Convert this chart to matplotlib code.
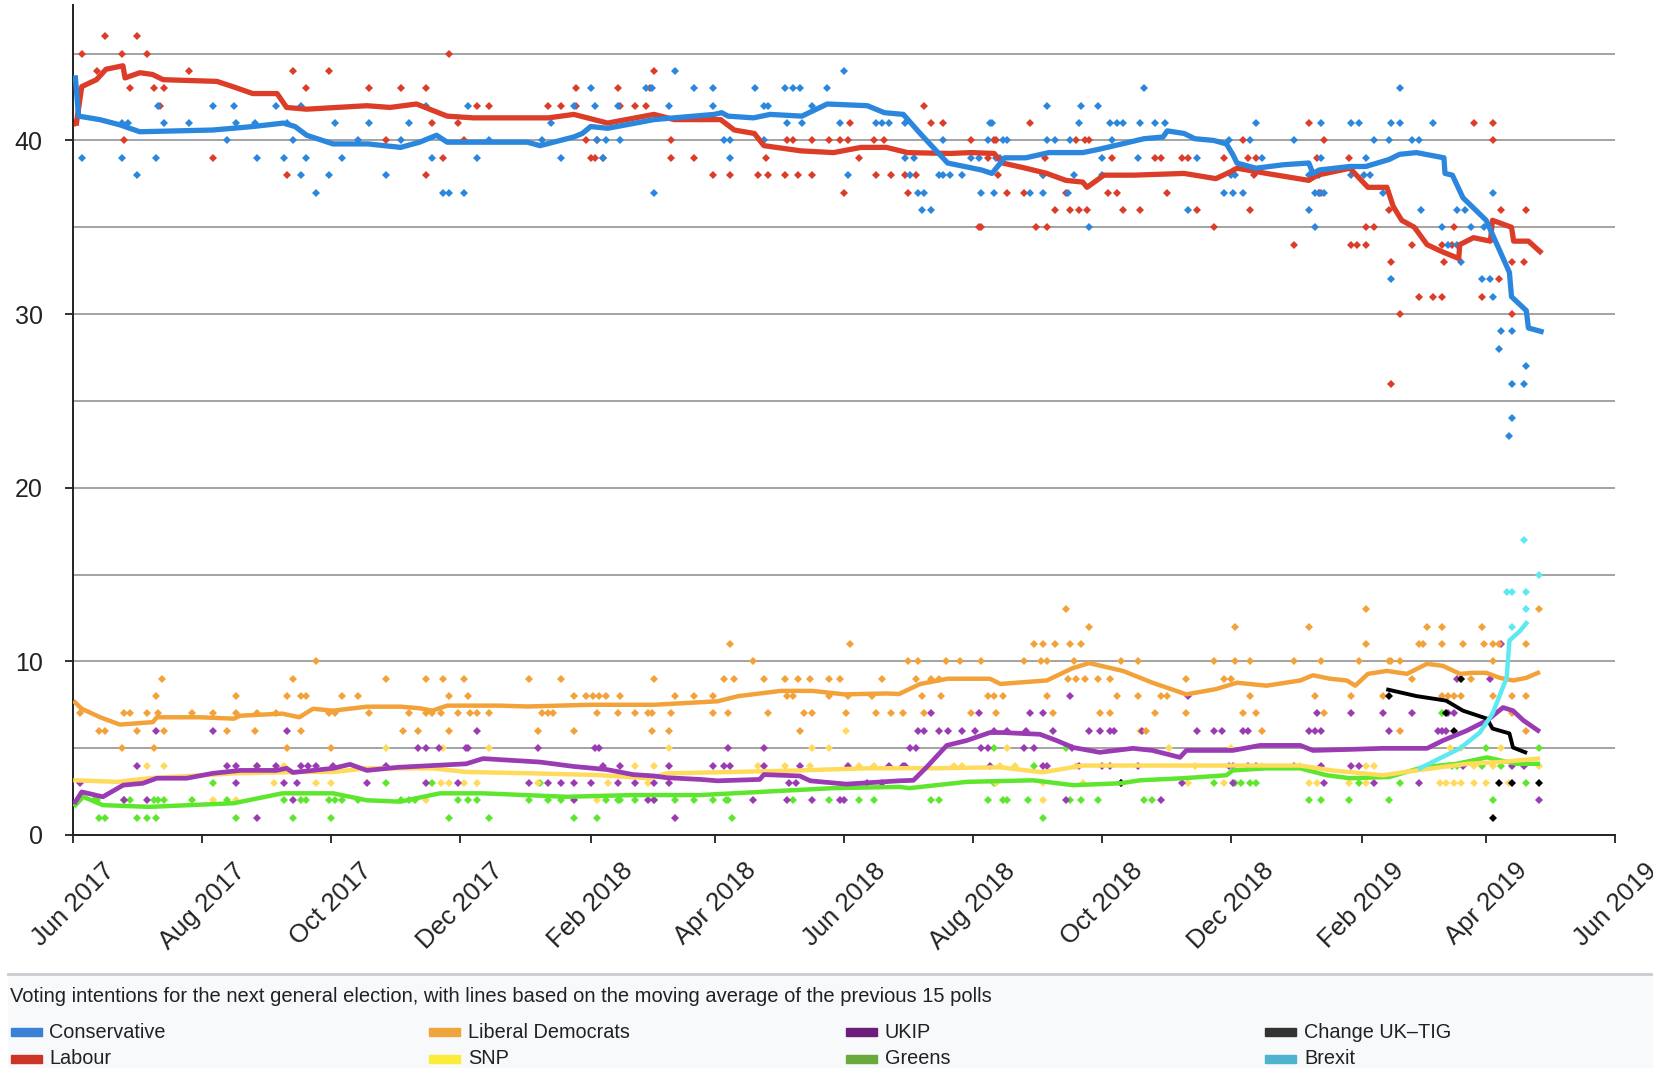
import pandas as pd
import matplotlib
matplotlib.use('Agg')
import matplotlib.pyplot as plt
import matplotlib.dates as mdates
from matplotlib.patches import Rectangle

plt.rcParams['font.family'] = ['Liberation Sans', 'DejaVu Sans']

start = pd.Timestamp('2017-06-01')

# moving-average lines: (days after 1 Jun 2017, percent)
con_line = [(1, 43.6), (2.5, 41.4), (12.5, 41.2), (22, 40.9), (31.5, 40.5), (66, 40.6), (85, 40.8),
            (99.5, 41.0), (105, 40.8), (110.5, 40.3), (123, 39.8), (139.5, 39.8), (155, 39.6), (164, 39.9),
            (172, 40.3), (177, 39.9), (202, 39.9), (215, 39.9), (221, 39.7), (237, 40.2), (241, 40.4),
            (245, 40.8), (253, 40.7), (275, 41.2), (303.5, 41.5), (307, 41.6), (310, 41.4), (322, 41.3),
            (330, 41.5), (345, 41.4), (357, 42.1), (376, 42.0), (384, 41.6), (393, 41.5), (401, 40.4),
            (414, 38.7), (430, 38.3), (435, 38.1), (441, 39.0), (451, 39.0), (462, 39.3), (478, 39.3),
            (486, 39.5), (500, 39.9), (507, 40.1), (516, 40.2), (518, 40.55), (526, 40.4), (531, 40.1),
            (540, 40.0), (546, 39.8), (549, 39.2), (551, 38.7), (560, 38.4), (573, 38.6), (585, 38.7),
            (587, 38.1), (590, 38.3), (604.5, 38.5), (612, 38.5), (623, 38.9), (628, 39.2), (636, 39.3),
            (649, 39.0), (649.5, 38.1), (653, 38.0), (658, 36.7), (669, 35.4), (680, 32.4), (681, 31.0),
            (688, 30.2), (689, 29.2), (695, 29.0)]
lab_line = [(1.5, 41.0), (4, 43.1), (11, 43.5), (15.5, 44.1), (23.5, 44.3), (24.5, 43.6), (31.5, 43.9),
            (37.5, 43.8), (42.5, 43.5), (68, 43.4), (75.5, 43.1), (85, 42.7), (96.5, 42.7), (101, 41.9),
            (110.5, 41.8), (139, 42.0), (150, 41.9), (162.5, 42.1), (177, 41.4), (189.5, 41.3), (202, 41.3),
            (225, 41.3), (237, 41.5), (253, 41.0), (275, 41.5), (284.5, 41.2), (306.5, 41.2), (313, 40.6),
            (322.5, 40.4), (327, 39.7), (344.5, 39.4), (360, 39.3), (373, 39.6), (385, 39.6), (395, 39.3),
            (415, 39.25), (425, 39.3), (436, 39.25), (440, 38.7), (451, 38.4), (461, 38.1), (470, 37.7),
            (478, 37.6), (480, 37.3), (488, 38.0), (502, 38.0), (526, 38.1), (541, 37.8), (548, 38.2),
            (551, 38.4), (565, 38.1), (585, 37.7), (589, 38.0), (604.5, 38.4), (613, 37.3), (622, 37.3),
            (625, 36.2), (629, 35.4), (635, 35.0), (641, 34.0), (648, 33.6), (656, 33.2), (656.5, 34.0),
            (663, 34.4), (671, 34.2), (672, 35.4), (681, 35.0), (682, 34.2), (689, 34.2), (694.5, 33.6)]
ld_line = [(0.8, 7.64), (4, 7.27), (12.7, 6.78), (22, 6.36), (37.7, 6.5), (39.5, 6.78), (60, 6.78), (76, 6.7),
           (79, 6.87), (99, 6.99), (107, 6.78), (113.5, 7.27), (123, 7.16), (139, 7.39), (155, 7.39),
           (164, 7.3), (170, 7.16), (177, 7.45), (202, 7.45), (215, 7.4), (245, 7.5), (275, 7.5), (305, 7.7),
           (315, 8.0), (335, 8.3), (350, 8.3), (365, 8.1), (385, 8.15), (391, 8.12), (401, 8.7), (414, 9.0),
           (434, 9.0), (439, 8.7), (461, 8.9), (473, 9.6), (481, 9.9), (497, 9.45), (511, 8.77), (527, 8.1),
           (541, 8.4), (551, 8.77), (565, 8.6), (581, 8.9), (587, 9.2), (595, 9.0), (603, 8.9), (607, 8.6),
           (613, 9.28), (622, 9.45), (631.5, 9.28), (641, 9.86), (648.5, 9.74), (656.6, 9.28), (662.7, 9.34),
           (669, 9.34), (675.5, 9.05), (681.7, 8.9), (688, 9.05), (693.5, 9.34)]
ukip_line = [(1, 1.91), (4, 2.48), (14, 2.2), (23.6, 2.87), (33, 2.98), (39.5, 3.27), (53.7, 3.27), (66, 3.55),
             (79, 3.72), (96, 3.72), (101, 3.84), (104, 3.6), (123, 3.84), (131, 4.07), (139, 3.72),
             (154, 3.9), (170, 4.0), (186, 4.1), (194, 4.4), (221, 4.2), (236.8, 3.95), (252.6, 3.77),
             (265, 3.48), (275, 3.4), (281, 3.3), (297, 3.2), (305, 3.12), (325, 3.2), (327, 3.48), (344, 3.4),
             (349, 3.12), (366, 2.93), (391, 3.12), (397.8, 3.15), (404, 3.9), (413.6, 5.16), (423, 5.44),
             (434, 5.9), (440, 5.9), (457.7, 5.8), (465.6, 5.44), (473.4, 5.04), (486, 4.76), (501.7, 4.99),
             (511, 4.87), (524, 4.47), (527, 4.87), (549, 4.87), (562, 5.16), (581, 5.16), (587, 4.87),
             (604.5, 4.93), (620, 4.99), (641, 4.99), (648.5, 5.44), (660, 6.02), (669.4, 6.6), (677, 7.34),
             (681.7, 7.16), (686.6, 6.6), (693.5, 6.02)]
snp_line = [(1, 3.15), (21, 3.06), (36, 3.27), (76, 3.55), (107, 3.63), (123, 3.63), (139, 3.84), (170, 3.84),
            (186, 3.63), (218, 3.55), (249, 3.45), (273, 3.26), (281, 3.55), (312.5, 3.63), (344, 3.72),
            (375.7, 3.84), (397.8, 3.85), (407, 3.84), (439, 3.9), (459, 3.61), (478, 4.0), (533, 4.0),
            (581, 4.0), (596, 3.72), (620, 3.44), (636, 3.72), (660, 4.1), (675.5, 4.2), (693.5, 4.4)]
greens_line = [(1, 1.72), (4.7, 2.2), (14, 1.72), (36, 1.62), (76, 1.83), (99, 2.4), (123, 2.4), (139, 2.0),
               (154.7, 1.92), (173.6, 2.4), (194, 2.4), (233.6, 2.2), (265, 2.3), (296.7, 2.3), (312.5, 2.4),
               (344, 2.6), (360, 2.7), (391, 2.77), (396, 2.7), (423, 3.06), (454.5, 3.15), (473.4, 2.87),
               (496, 2.98), (505, 3.15), (525.6, 3.27), (546, 3.44), (549, 3.72), (565, 3.84), (581, 3.84),
               (593.5, 3.44), (604.5, 3.27), (623, 3.34), (639, 3.9), (655, 4.1), (669.4, 4.47), (675.5, 4.3),
               (683.5, 4.1), (693.5, 4.1)]
tig_line = [(622.6, 8.37), (636, 8.0), (650, 7.74), (658, 7.16), (669.4, 6.7), (672, 6.13), (680, 5.85),
            (681.7, 5.04), (687.5, 4.76)]
brexit_line = [(637.6, 3.84), (656.6, 4.99), (666, 5.9), (672, 6.99), (678.7, 9.05), (680, 11.2), (685, 11.75),
               (688, 12.2)]

# individual polls: (days after 1 Jun 2017, percent)
con_polls = [(4, 39), (23, 39), (30, 38), (39, 39), (40, 42), (43, 41), (23, 41), (26, 41), (66, 42), (55, 41),
             (73, 40), (76, 42), (77, 41), (86, 41), (87, 39), (96, 42), (100, 39), (101, 41), (104, 40),
             (108, 42), (108, 38), (110, 39), (115, 37), (121, 38), (124, 41), (127, 39), (135, 40), (140, 41),
             (148, 38), (155, 40), (159, 41), (167, 42), (170, 39), (175, 37), (178, 37), (185, 37), (187, 42),
             (191, 39), (197, 40), (237, 42), (245, 43), (247, 42), (258, 42), (271, 43), (274, 43), (285, 44),
             (282, 42), (294, 43), (303, 43), (303, 42), (226, 41), (222, 40), (248, 40), (252, 40), (259, 40),
             (251, 39), (231, 39), (275, 37), (308, 40), (311, 40), (311, 39), (323, 43), (327, 42), (329, 42),
             (327, 40), (337, 43), (341, 43), (344, 43), (338, 41), (345, 41), (350, 42), (357, 43), (365, 44),
             (363, 41), (367, 38), (380, 41), (383, 41), (386, 41), (394, 41), (394, 39), (396, 38), (398, 39),
             (400, 37), (403, 37), (402, 36), (406, 36), (410, 38), (412, 38), (412, 40), (421, 38), (430, 37),
             (434, 41), (433, 40), (436, 37), (437, 39), (507, 43), (461, 42), (477, 42), (485, 42), (435, 41),
             (476, 41), (491, 41), (494, 41), (497, 41), (505, 41), (512, 41), (517, 41), (560, 41), (591, 41),
             (440, 40), (442, 40), (461, 40), (465, 40), (472, 40), (492, 40), (547, 40), (557, 40), (578, 40),
             (425, 39), (429, 39), (439, 39), (487, 39), (504, 39), (532, 39), (563, 39), (415, 38), (459, 38),
             (474, 38), (487, 38), (548, 38), (550, 38), (585, 38), (453, 37), (459, 37), (471, 37), (545, 37),
             (549, 37), (554, 37), (588, 37), (590, 37), (528, 36), (585, 36), (481, 35), (588, 35), (628, 43),
             (605, 41), (609, 41), (624, 41), (628, 41), (644, 41), (616, 40), (623, 40), (634, 40), (637, 40),
             (591, 39), (612, 39), (590, 38), (605, 38), (611, 38), (614, 38), (592, 37), (620, 37), (672, 37),
             (638, 36), (655, 36), (659, 36), (648, 35), (662, 35), (668, 35), (651, 34), (655, 34), (657, 33),
             (667, 32), (671, 32), (624, 32), (672, 31), (676, 29), (681, 29), (675, 28), (688, 27), (681, 26),
             (687, 26), (681, 24), (680, 23)]
lab_polls = [(4, 45), (15, 46), (23, 45), (30, 46), (35, 45), (11, 44), (55, 44), (104, 44), (121, 44), (27, 43),
             (38, 43), (43, 43), (41, 42), (1, 41), (24, 40), (66, 39), (101, 38), (110, 43), (167, 38),
             (175, 39), (178, 45), (140, 43), (155, 43), (167, 43), (191, 42), (197, 42), (148, 40), (170, 41),
             (182, 41), (185, 40), (275, 44), (238, 43), (258, 43), (273, 43), (225, 42), (231, 42), (238, 42),
             (259, 42), (266, 42), (271, 42), (243, 40), (248, 40), (283, 40), (245, 39), (247, 39), (251, 39),
             (283, 39), (294, 39), (303, 38), (311, 38), (324, 38), (329, 38), (337, 38), (343, 38), (350, 38),
             (328, 39), (338, 40), (341, 40), (350, 40), (358, 40), (363, 40), (367, 40), (379, 40), (384, 40),
             (368, 41), (365, 37), (372, 39), (380, 38), (387, 38), (394, 38), (395, 37), (399, 38), (403, 42),
             (406, 41), (412, 41), (425, 40), (429, 35), (437, 40), (453, 41), (585, 41), (436, 40), (475, 40),
             (479, 40), (481, 40), (554, 40), (592, 40), (433, 39), (460, 39), (492, 39), (512, 39), (515, 39),
             (525, 39), (528, 39), (545, 39), (556, 39), (560, 39), (589, 39), (604, 39), (438, 38), (459, 38),
             (559, 38), (589, 38), (442, 37), (450, 37), (470, 37), (490, 37), (494, 37), (518, 37), (590, 37),
             (465, 36), (472, 36), (476, 36), (480, 36), (497, 36), (505, 36), (532, 36), (557, 36), (430, 35),
             (456, 35), (461, 35), (540, 35), (578, 34), (663, 41), (672, 41), (672, 40), (591, 37), (623, 36),
             (676, 36), (688, 36), (612, 35), (616, 35), (654, 35), (605, 34), (608, 34), (612, 34), (634, 34),
             (648, 34), (653, 34), (649, 33), (681, 33), (687, 33), (624, 33), (675, 32), (637, 31), (644, 31),
             (648, 31), (667, 31), (628, 30), (681, 30), (624, 26)]
ld_polls = [(3, 7), (12, 6), (15, 6), (24, 7), (27, 7), (30, 6), (35, 7), (23, 5), (38, 5), (39, 8), (42, 9),
            (40, 7), (43, 6), (56, 7), (66, 7), (73, 6), (77, 8), (77, 7), (86, 6), (87, 7), (96, 7), (101, 8),
            (101, 5), (104, 9), (108, 8), (110, 8), (108, 6), (115, 10), (121, 7), (124, 7), (122, 5), (127, 8),
            (135, 8), (140, 7), (148, 9), (156, 6), (159, 7), (163, 6), (167, 9), (167, 7), (170, 7), (174, 7),
            (175, 9), (178, 8), (178, 6), (185, 9), (187, 8), (182, 7), (188, 7), (191, 7), (197, 7), (216, 9),
            (231, 9), (275, 9), (308, 9), (313, 9), (327, 9), (337, 9), (343, 9), (349, 9), (358, 9), (363, 9),
            (383, 9), (399, 9), (322, 10), (395, 10), (400, 10), (311, 11), (368, 11), (237, 8), (243, 8),
            (246, 8), (249, 8), (252, 8), (259, 8), (285, 8), (294, 8), (303, 8), (338, 8), (341, 8), (358, 8),
            (367, 8), (378, 8), (222, 7), (225, 7), (227, 7), (248, 7), (258, 7), (266, 7), (272, 7), (274, 7),
            (283, 7), (303, 7), (310, 7), (329, 7), (346, 7), (350, 7), (366, 7), (380, 7), (387, 7), (393, 7),
            (220, 6), (237, 6), (274, 6), (282, 6), (344, 6), (470, 13), (481, 12), (550, 12), (585, 12),
            (455, 11), (459, 11), (465, 11), (472, 11), (477, 11), (413, 10), (420, 10), (430, 10), (450, 10),
            (458, 10), (461, 10), (474, 10), (496, 10), (504, 10), (540, 10), (550, 10), (557, 10), (578, 10),
            (591, 10), (406, 9), (410, 9), (471, 9), (475, 9), (479, 9), (485, 9), (491, 9), (527, 9), (545, 9),
            (548, 9), (402, 8), (411, 8), (433, 8), (436, 8), (440, 8), (461, 8), (494, 8), (504, 8), (515, 8),
            (518, 8), (557, 8), (588, 8), (403, 7), (425, 7), (437, 7), (464, 7), (486, 7), (491, 7), (512, 7),
            (527, 7), (554, 7), (560, 7), (592, 7), (508, 6), (563, 6), (612, 13), (694, 13), (641, 12),
            (648, 12), (667, 12), (612, 11), (637, 11), (639, 11), (648, 11), (658, 11), (668, 11), (672, 11),
            (675, 11), (688, 11), (609, 10), (623, 10), (624, 10), (628, 10), (672, 10), (634, 9), (657, 9),
            (662, 9), (605, 8), (620, 8), (648, 8), (651, 8), (654, 8), (657, 8), (672, 8), (681, 8), (688, 8),
            (681, 7), (628, 6), (688, 6)]
snp_polls = [(35, 4), (43, 4), (66, 2), (77, 2), (95, 3), (100, 4), (115, 3), (122, 3), (148, 5), (167, 2),
             (174, 3), (178, 3), (185, 3), (191, 3), (197, 5), (175, 5), (282, 5), (350, 5), (358, 5), (366, 6),
             (266, 4), (275, 4), (324, 4), (337, 4), (349, 4), (372, 4), (379, 4), (220, 3), (253, 3), (272, 3),
             (248, 2), (505, 6), (442, 5), (519, 5), (548, 5), (417, 4), (421, 4), (439, 4), (446, 4), (475, 4),
             (531, 4), (563, 4), (437, 3), (459, 3), (478, 3), (528, 3), (545, 3), (585, 3), (589, 3), (459, 2),
             (604, 3), (581, 4), (612, 4), (616, 4), (652, 5), (657, 5), (676, 5), (612, 3), (647, 3), (650, 3),
             (654, 3), (657, 3), (663, 3), (669, 3), (680, 3), (663, 4), (672, 4), (694, 4)]
ukip_polls = [(3, 3), (24, 2), (30, 4), (35, 2), (39, 6), (66, 6), (73, 4), (77, 4), (77, 3), (87, 1), (87, 4),
              (96, 4), (100, 3), (101, 6), (104, 2), (106, 3), (108, 4), (111, 4), (115, 4), (123, 4), (139, 3),
              (148, 4), (191, 6), (163, 5), (167, 5), (173, 5), (186, 5), (187, 5), (220, 5), (247, 5), (249, 5),
              (310, 5), (327, 5), (396, 5), (399, 5), (400, 6), (251, 4), (259, 4), (282, 4), (303, 4), (308, 4),
              (311, 4), (327, 4), (344, 4), (367, 4), (386, 4), (393, 4), (167, 3), (182, 3), (216, 3), (225, 3),
              (231, 3), (237, 3), (245, 3), (258, 3), (266, 3), (275, 3), (282, 3), (339, 3), (342, 3), (376, 3),
              (383, 3), (237, 2), (272, 2), (275, 2), (322, 2), (338, 2), (350, 2), (363, 2), (365, 2), (285, 1),
              (472, 8), (528, 8), (406, 7), (429, 7), (453, 7), (459, 7), (589, 7), (403, 6), (410, 6), (414, 6),
              (421, 6), (427, 6), (436, 6), (442, 6), (451, 6), (464, 6), (481, 6), (486, 6), (491, 6), (493, 6),
              (506, 6), (532, 6), (540, 6), (544, 6), (554, 6), (556, 6), (585, 6), (588, 6), (591, 6), (430, 5),
              (433, 5), (450, 5), (455, 5), (473, 5), (394, 4), (434, 4), (459, 4), (461, 4), (476, 4), (487, 4),
              (491, 4), (504, 4), (547, 4), (549, 4), (556, 4), (560, 4), (578, 4), (591, 4), (496, 3), (525, 3),
              (549, 3), (592, 3), (470, 2), (515, 2), (605, 7), (620, 7), (634, 7), (651, 7), (654, 7), (623, 6),
              (646, 6), (648, 6), (650, 6), (655, 9), (671, 9), (676, 11), (605, 4), (609, 4), (637, 3), (616, 3),
              (658, 4), (681, 4), (687, 4), (694, 2)]
greens_polls = [(12, 1), (15, 1), (30, 1), (35, 1), (39, 1), (10, 2), (11, 2), (24, 2), (27, 2), (38, 2),
                (40, 2), (43, 2), (56, 2), (66, 3), (73, 2), (77, 1), (87, 4), (100, 2), (104, 1), (108, 2),
                (110, 2), (122, 1), (121, 2), (124, 2), (127, 2), (135, 2), (148, 3), (155, 2), (178, 1), (197, 1),
                (237, 1), (248, 1), (312, 1), (182, 2), (187, 2), (191, 2), (216, 2), (225, 2), (231, 2),
                (252, 2), (258, 2), (259, 2), (266, 2), (275, 2), (285, 2), (294, 2), (303, 2), (309, 2), (310, 2),
                (341, 2), (358, 2), (372, 2), (379, 2), (221, 3), (159, 2), (162, 2), (170, 3), (459, 1), (406, 2),
                (410, 2), (433, 2), (440, 2), (442, 2), (452, 2), (472, 2), (477, 2), (485, 2), (507, 2), (511, 2),
                (585, 2), (591, 2), (604, 2), (436, 5), (455, 4), (470, 5), (550, 3), (553, 3), (557, 3), (560, 3),
                (540, 3), (436, 3), (623, 2), (672, 2), (609, 3), (628, 3), (688, 3), (648, 7), (653, 4), (655, 4),
                (667, 4), (676, 4), (669, 5), (694, 5)]
tig_polls = [(496, 3), (623, 8), (657, 9), (654, 6), (650, 7), (672, 1), (675, 3), (681, 3), (694, 3)]
brexit_polls = [(687, 17), (694, 15), (679, 14), (681, 14), (688, 14), (688, 13), (681, 12)]

legend_labels = ['Conservative', 'Labour', 'Liberal Democrats', 'SNP', 'UKIP', 'Greens', 'Change UK\u2013TIG', 'Brexit']
legend_colors = ['#3a80d6', '#cc3426', '#f0a53c', '#fbec3a', '#6c1d7c', '#6aa93c', '#333333', '#4fb3ce']

caption = ('Voting intentions for the next general election, with lines based on the moving average '
           'of the previous 15 polls')


def to_xy(pairs):
    days = [p[0] for p in pairs]
    vals = [p[1] for p in pairs]
    return start + pd.to_timedelta(days, unit='D'), vals


fig = plt.figure(figsize=(16.53, 10.68), dpi=100)
ax = fig.add_axes([73.3 / 1653, 233 / 1068, (1615 - 73.3) / 1653, 830 / 1068])

series = [
    (greens_polls, greens_line, '#5ee62e', 3.2),
    (snp_polls, snp_line, '#ffdb5c', 3.2),
    (ukip_polls, ukip_line, '#9b3bb3', 3.4),
    (ld_polls, ld_line, '#f3a23a', 3.2),
    (lab_polls, lab_line, '#dc3d28', 3.8),
    (con_polls, con_line, '#2a87dd', 3.8),
    (tig_polls, tig_line, '#000000', 2.8),
    (brexit_polls, brexit_line, '#5ee9f2', 3.2),
]
for polls, line, col, lw in series:
    px, py = to_xy(polls)
    ax.plot(px, py, 'D', color=col, ms=4.2, mew=0, zorder=2)
for polls, line, col, lw in series:
    lx, ly = to_xy(line)
    ax.plot(lx, ly, '-', color=col, lw=lw, solid_joinstyle='round', zorder=3)

ax.set_xlim(pd.Timestamp('2017-06-01'), pd.Timestamp('2019-06-01'))
ax.set_ylim(0, 47.8)
ax.xaxis.set_major_locator(mdates.MonthLocator(bymonth=[2, 4, 6, 8, 10, 12]))
ax.xaxis.set_major_formatter(mdates.DateFormatter('%b %Y'))
ax.set_yticks([0, 10, 20, 30, 40])
ax.set_yticks([5, 15, 25, 35, 45], minor=True)
ax.yaxis.grid(True, which='both', color='#a3a3a3', lw=1.4)
ax.set_axisbelow(True)
ax.tick_params(axis='y', which='major', length=6, width=1.3, pad=16, labelsize=18, colors='#222222')
ax.tick_params(axis='y', which='minor', length=0)
ax.tick_params(axis='x', length=6, width=1.3, pad=11, labelsize=18.5, colors='#222222')
for lab in ax.get_xticklabels():
    lab.set_rotation(45)
    lab.set_ha('center')
for s in ['top', 'right']:
    ax.spines[s].set_visible(False)
for s in ['left', 'bottom']:
    ax.spines[s].set_color('#222222')
    ax.spines[s].set_linewidth(1.4)

# caption panel
panel = fig.add_axes([8 / 1653, 0, 1 - 8 / 1653, 94 / 1068])
panel.set_facecolor('#f8f9fa')
panel.set_xticks([])
panel.set_yticks([])
for s in ['left', 'right', 'bottom']:
    panel.spines[s].set_visible(False)
panel.spines['top'].set_color('#c8ccd1')
panel.spines['top'].set_linewidth(2)

fig.text(10.5 / 1653, 1 - 997 / 1068, caption, fontsize=14.5, color='#202122', va='center', ha='left')
col_x = [10.5, 429, 846, 1265]
row_y = [1032, 1059]
for i, (name, c) in enumerate(zip(legend_labels, legend_colors)):
    x0 = col_x[i // 2]
    y0 = row_y[i % 2]
    fig.patches.append(Rectangle((x0 / 1653, 1 - (y0 + 4) / 1068), 31 / 1653, 8 / 1068,
                                 transform=fig.transFigure, color=c))
    fig.text((x0 + 39) / 1653, 1 - y0 / 1068, name, fontsize=14.3, color='#202122', va='center', ha='left')

fig.savefig('out.png', dpi=100)
